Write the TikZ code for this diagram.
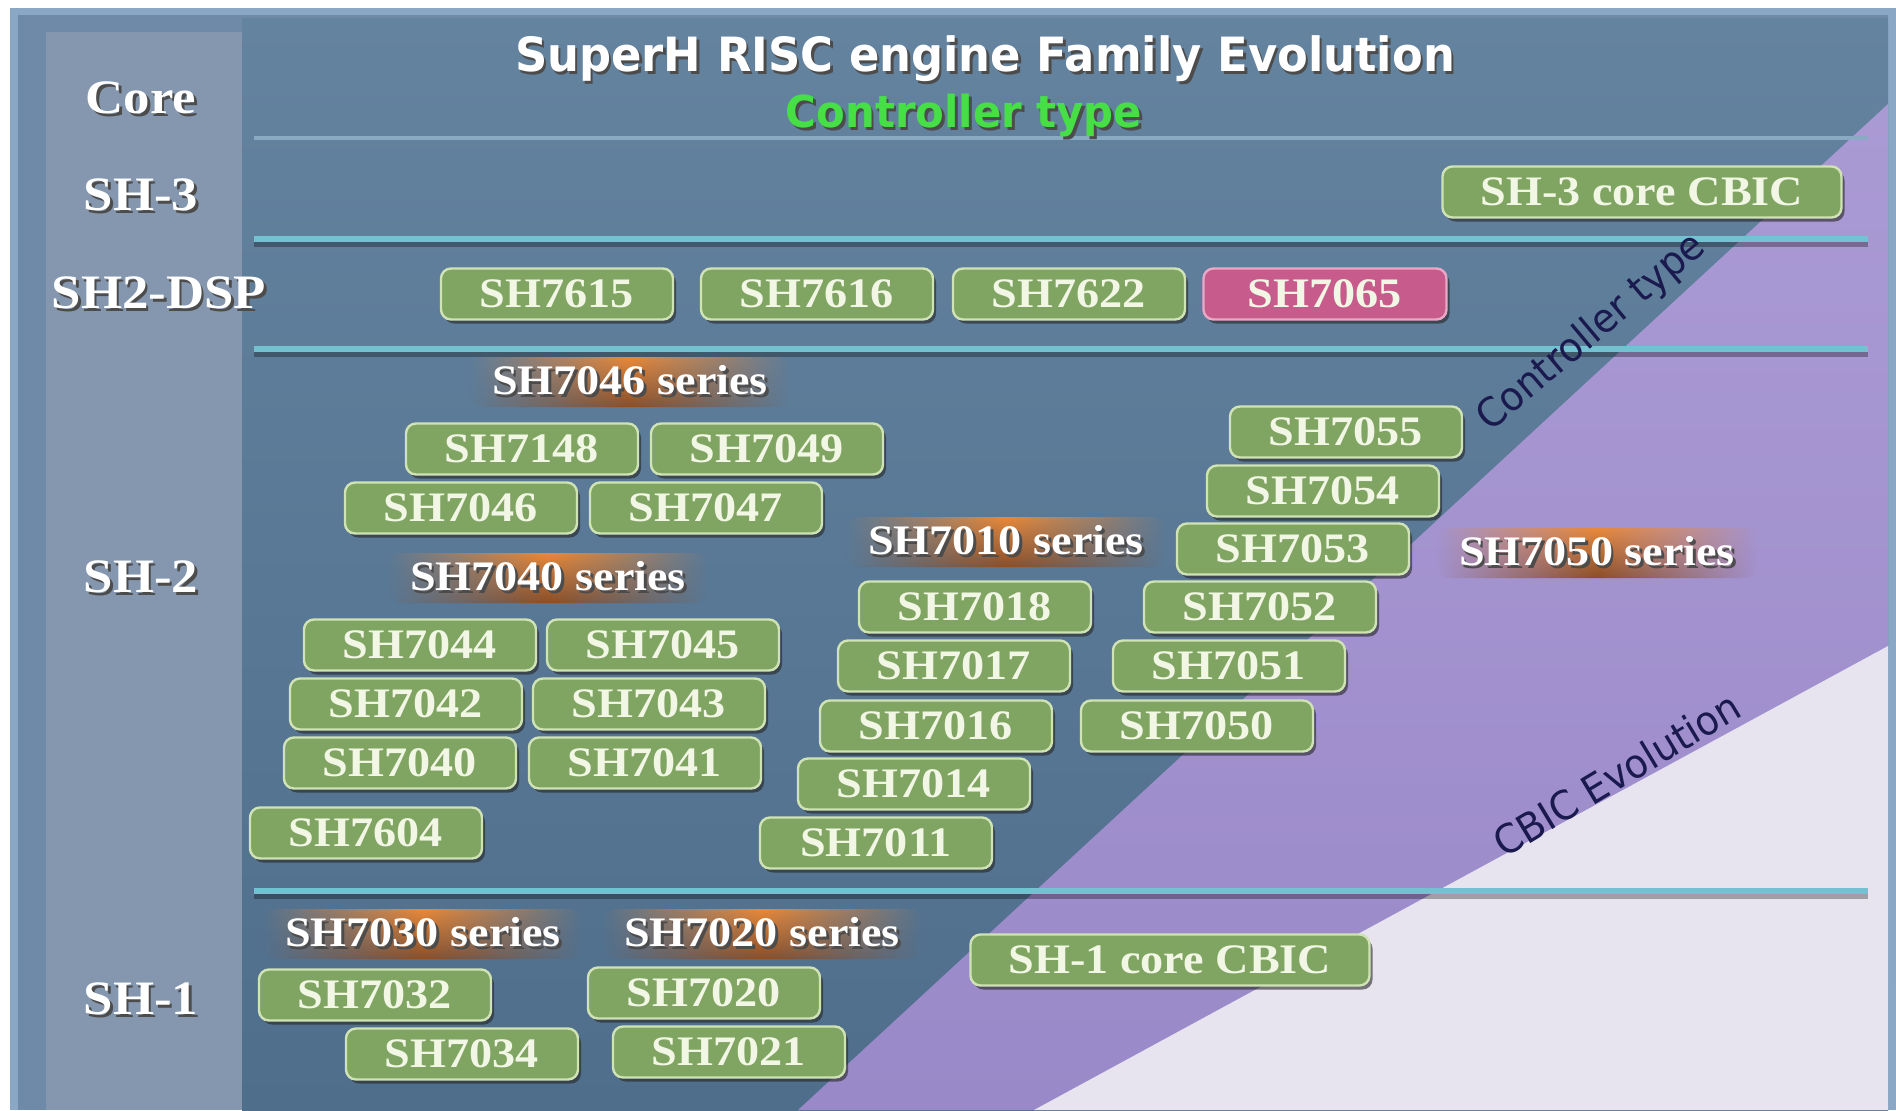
\documentclass[tikz,border=0pt]{standalone}
\usepackage{fontspec}
\usetikzlibrary{shadows,fadings}
\newfontfamily\boxfont[FakeStretch=1.1]{Liberation Serif}
\newfontfamily\titlefont[FakeStretch=0.95]{DejaVu Sans}
\newfontfamily\diagfont[FakeStretch=0.95]{DejaVu Sans}
\definecolor{bgtop}{HTML}{64839F}
\definecolor{bgbot}{HTML}{4F6E8C}
\definecolor{bgmain}{HTML}{5A7A97}
\definecolor{frameb}{HTML}{8AA8C6}
\definecolor{framein}{HTML}{6E8AA8}
\definecolor{panel}{HTML}{8497AE}
\definecolor{purp}{HTML}{9A89C8}
\definecolor{purptop}{HTML}{AA9AD4}
\definecolor{lightreg}{HTML}{E7E4EF}
\definecolor{cyanline}{HTML}{72C2D2}
\definecolor{topline}{HTML}{89AAC2}
\definecolor{gfill}{HTML}{80A462}
\definecolor{gedge}{HTML}{CFE3B4}
\definecolor{gtext}{HTML}{F2F6E4}
\definecolor{pfill}{HTML}{C65B8C}
\definecolor{pedge}{HTML}{E9A8C6}
\definecolor{orng}{HTML}{E8893A}
\definecolor{brwn}{HTML}{8A4E28}
\definecolor{ctgreen}{HTML}{46E046}
\definecolor{navy}{HTML}{1A1A4E}
\tikzfading[name=fadelr, left color=transparent!100, right color=transparent!100, middle color=transparent!0]
\newcommand\shad[2][black!70]{\makebox[0pt][l]{\kern1.3pt\raisebox{-1.5pt}{\textcolor{#1}{#2}}}#2}
\tikzset{
  gbox/.style={draw=gedge, line width=1.2pt, fill=gfill, rounded corners=5pt,
    minimum width=116pt, minimum height=25.5pt, inner sep=0pt, text=gtext,
    font=\boxfont\bfseries\fontsize{21}{21}\selectfont,
    drop shadow={shadow xshift=1.5pt, shadow yshift=-2pt, fill=black!85, opacity=0.6}},
  widebox/.style={gbox, minimum width=199.5pt},
  pbox/.style={gbox, draw=pedge, fill=pfill, minimum width=121.5pt},
  olab/.style={rounded corners=6pt, minimum width=160pt, minimum height=25pt, inner sep=0pt,
    text=white, font=\boxfont\bfseries\fontsize{21}{21}\selectfont,
    top color=orng, bottom color=brwn, path fading=fadelr},
  rowlab/.style={text=white, inner sep=0pt, font=\boxfont\bfseries\fontsize{24}{24}\selectfont},
  hline/.style={line width=2.6pt, cyanline},
  hshadow/.style={line width=3pt, black, opacity=0.3},
  diag/.style={text=navy, inner sep=0pt, font=\diagfont\fontsize{20}{20}\selectfont}
}
\begin{document}
\begin{tikzpicture}[x=0.5pt,y=-0.5pt]
\useasboundingbox (0,0) rectangle (1896,1110);
\fill[white] (0,0) rectangle (1896,1110);
\fill[frameb] (10,8) rectangle (1896,1110);
\fill[framein] (18,15) rectangle (1888,1110);
\shade[top color=bgtop, bottom color=bgbot] (242,18) rectangle (1888,1110);
\fill[panel] (46,32) rectangle (242,1110);
% diagonal regions
\shade[top color=purptop, bottom color=purp] (798,1110) -- (1888,104) -- (1888,1110) -- cycle;
\fill[lightreg] (1034,1110) -- (1888,646) -- (1888,1110) -- cycle;
% horizontal lines
\draw[line width=2pt, topline] (254,138) -- (1868,138);
\foreach \yy in {239,349,891}{
  \draw[hshadow] (254,\yy+5) -- (1868,\yy+5);
  \draw[hline] (254,\yy) -- (1868,\yy);
}
% titles
\node[text=white, inner sep=0pt, font=\titlefont\bfseries\fontsize{23.6}{23.6}\selectfont] (title) at (985,60) {\shad{SuperH RISC engine Family Evolution}};
\node[text=ctgreen, inner sep=0pt, font=\titlefont\bfseries\fontsize{22}{22}\selectfont] (subtitle) at (964,117) {\shad{Controller type}};
% row labels
\node[rowlab] (lcore) at (141,99) {\shad{Core}};
\node[rowlab] (lsh3) at (141,196) {\shad{SH-3}};
\node[rowlab] (ldsp) at (159,294) {\shad{SH2-DSP}};
\node[rowlab] (lsh2) at (141,578) {\shad{SH-2}};
\node[rowlab] (lsh1) at (141,1000) {\shad{SH-1}};
% diagonal labels
\node[diag, rotate=40] (ctdiag) at (1592,333) {Controller type};
\node[diag, rotate=31] (cbicdiag) at (1617,774) {CBIC Evolution};
% SH-3 row
\node[widebox] (sh3cbic) at (1642,192) {SH-3 core CBIC};
% SH2-DSP row
\node[gbox] (sh7615) at (557,294) {SH7615};
\node[gbox] (sh7616) at (817,294) {SH7616};
\node[gbox] (sh7622) at (1069,294) {SH7622};
\node[pbox] (sh7065) at (1325,294) {SH7065};
% SH-2 row
\node[olab] (s7046) at (630,382) {\shad{SH7046 series}};
\node[gbox] (sh7148) at (522,449) {SH7148};
\node[gbox] (sh7049) at (767,449) {SH7049};
\node[gbox] (sh7046) at (461,508) {SH7046};
\node[gbox] (sh7047) at (706,508) {SH7047};
\node[olab] (s7040) at (548,578) {\shad{SH7040 series}};
\node[gbox] (sh7044) at (420,645) {SH7044};
\node[gbox] (sh7045) at (663,645) {SH7045};
\node[gbox] (sh7042) at (406,704) {SH7042};
\node[gbox] (sh7043) at (649,704) {SH7043};
\node[gbox] (sh7040) at (400,763) {SH7040};
\node[gbox] (sh7041) at (645,763) {SH7041};
\node[gbox] (sh7604) at (366,833) {SH7604};
\node[olab] (s7010) at (1006,542) {\shad{SH7010 series}};
\node[gbox] (sh7018) at (975,607) {SH7018};
\node[gbox] (sh7017) at (954,666) {SH7017};
\node[gbox] (sh7016) at (936,726) {SH7016};
\node[gbox] (sh7014) at (914,784) {SH7014};
\node[gbox] (sh7011) at (876,843) {SH7011};
\node[gbox] (sh7055) at (1346,432) {SH7055};
\node[gbox] (sh7054) at (1323,491) {SH7054};
\node[gbox] (sh7053) at (1293,549) {SH7053};
\node[gbox] (sh7052) at (1260,607) {SH7052};
\node[gbox] (sh7051) at (1229,666) {SH7051};
\node[gbox] (sh7050) at (1197,726) {SH7050};
\node[olab] (s7050) at (1597,553) {\shad{SH7050 series}};
% SH-1 row
\node[olab] (s7030) at (423,934) {\shad{SH7030 series}};
\node[olab] (s7020) at (762,934) {\shad{SH7020 series}};
\node[gbox] (sh7032) at (375,995) {SH7032};
\node[gbox] (sh7034) at (462,1054) {SH7034};
\node[gbox] (sh7020) at (704,993) {SH7020};
\node[gbox] (sh7021) at (729,1052) {SH7021};
\node[widebox] (sh1cbic) at (1170,960) {SH-1 core CBIC};
\end{tikzpicture}
\end{document}
